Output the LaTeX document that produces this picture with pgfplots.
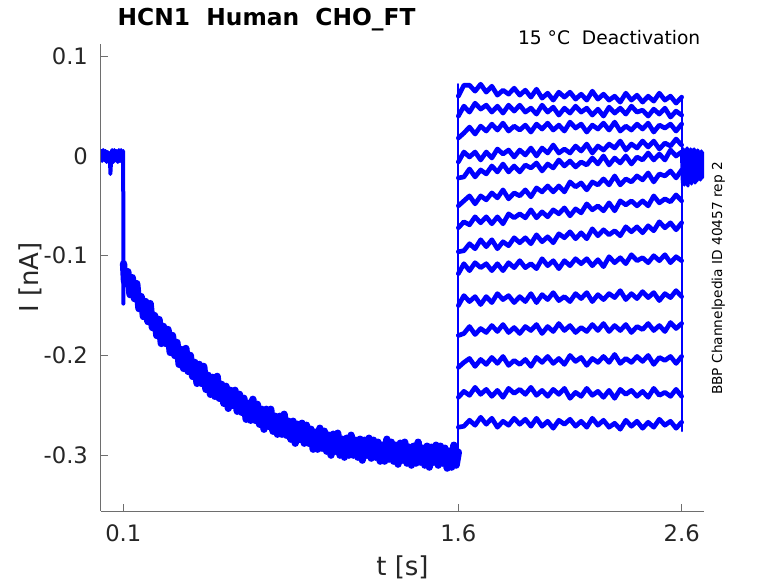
\documentclass[border=0pt]{standalone}
\usepackage{fontspec}
\setmainfont{DejaVu Sans}
\usepackage{pgfplots}
\usepackage{pgfplotstable}
\pgfplotsset{compat=1.18}
\definecolor{axgray}{RGB}{110,110,110}
\definecolor{txt}{RGB}{38,38,38}
\definecolor{tr}{RGB}{0,0,255}

% pre-step holding current and the step at 0.1 s (t [s], I [nA])
\pgfplotstableread{
t i
0.000 0.005
0.005 -0.005
0.010 0.006
0.015 -0.004
0.020 0.005
0.025 -0.006
0.030 0.004
0.035 -0.006
0.040 0.003
0.042 -0.018
0.045 -0.005
0.050 0.006
0.055 -0.006
0.060 0.006
0.065 -0.004
0.070 0.005
0.075 -0.006
0.080 0.006
0.085 -0.005
0.090 0.006
0.095 -0.006
0.0995 0.005
0.1000 -0.148
0.1010 -0.110
}\prestep

% deactivation-prepulse decay (t [s], I [nA])
\pgfplotstableread{
t i
0.1010 -0.108
0.1050 -0.125
0.11 -0.128
0.12 -0.116
0.13 -0.139
0.14 -0.122
0.15 -0.143
0.16 -0.128
0.17 -0.153
0.18 -0.141
0.19 -0.161
0.20 -0.146
0.21 -0.166
0.22 -0.148
0.23 -0.172
0.24 -0.160
0.25 -0.180
0.26 -0.164
0.27 -0.188
0.28 -0.171
0.29 -0.188
0.30 -0.174
0.31 -0.197
0.32 -0.180
0.33 -0.200
0.34 -0.187
0.35 -0.209
0.36 -0.194
0.37 -0.213
0.38 -0.193
0.39 -0.216
0.40 -0.200
0.41 -0.221
0.42 -0.207
0.43 -0.228
0.44 -0.209
0.45 -0.228
0.46 -0.211
0.47 -0.234
0.48 -0.220
0.49 -0.239
0.50 -0.222
0.51 -0.241
0.52 -0.221
0.53 -0.243
0.54 -0.229
0.55 -0.248
0.56 -0.231
0.57 -0.253
0.58 -0.235
0.59 -0.250
0.60 -0.235
0.61 -0.256
0.62 -0.239
0.63 -0.257
0.64 -0.243
0.65 -0.264
0.66 -0.248
0.67 -0.265
0.68 -0.244
0.69 -0.265
0.70 -0.249
0.71 -0.269
0.72 -0.254
0.73 -0.274
0.74 -0.254
0.75 -0.271
0.76 -0.254
0.77 -0.276
0.78 -0.261
0.79 -0.279
0.80 -0.261
0.81 -0.279
0.82 -0.259
0.83 -0.280
0.84 -0.266
0.85 -0.284
0.86 -0.266
0.87 -0.288
0.88 -0.269
0.89 -0.284
0.90 -0.268
0.91 -0.288
0.92 -0.270
0.93 -0.288
0.94 -0.274
0.95 -0.294
0.96 -0.277
0.97 -0.294
0.98 -0.273
0.99 -0.293
1.00 -0.276
1.01 -0.296
1.02 -0.280
1.03 -0.300
1.04 -0.279
1.05 -0.296
1.06 -0.278
1.07 -0.300
1.08 -0.284
1.09 -0.302
1.10 -0.283
1.11 -0.300
1.12 -0.280
1.13 -0.300
1.14 -0.285
1.15 -0.302
1.16 -0.284
1.17 -0.305
1.18 -0.285
1.19 -0.300
1.20 -0.283
1.21 -0.303
1.22 -0.285
1.23 -0.302
1.24 -0.287
1.25 -0.306
1.26 -0.290
1.27 -0.306
1.28 -0.284
1.29 -0.304
1.30 -0.287
1.31 -0.306
1.32 -0.290
1.33 -0.309
1.34 -0.288
1.35 -0.305
1.36 -0.287
1.37 -0.308
1.38 -0.292
1.39 -0.310
1.40 -0.291
1.41 -0.308
1.42 -0.287
1.43 -0.307
1.44 -0.293
1.45 -0.310
1.46 -0.291
1.47 -0.312
1.48 -0.292
1.49 -0.307
1.50 -0.290
1.51 -0.310
1.52 -0.291
1.53 -0.308
1.54 -0.293
1.55 -0.313
1.56 -0.296
1.57 -0.312
1.58 -0.290
1.59 -0.310
1.60 -0.297
}\decay

% 14 test-pulse sweeps, 1.6 s to 2.6 s (I [nA])
\pgfplotstableread{
t s1 s2 s3 s4 s5 s6 s7 s8 s9 s10 s11 s12 s13 s14
1.600 .060 .040 .018 -.006 -.022 -.050 -.072 -.096 -.118 -.150 -.180 -.212 -.242 -.272
1.625 .071 .050 .023 .004 -.021 -.045 -.066 -.095 -.108 -.140 -.178 -.207 -.236 -.271
1.650 .071 .044 .029 -.001 -.013 -.040 -.069 -.088 -.115 -.146 -.171 -.203 -.240 -.265
1.675 .065 .053 .022 .004 -.021 -.048 -.061 -.093 -.107 -.141 -.179 -.211 -.232 -.270
1.700 .072 .047 .030 -.004 -.014 -.040 -.067 -.084 -.112 -.149 -.173 -.204 -.239 -.262
1.725 .064 .051 .025 .004 -.018 -.044 -.061 -.091 -.108 -.141 -.177 -.209 -.234 -.269
1.750 .070 .044 .032 -.002 -.010 -.037 -.068 -.084 -.115 -.147 -.170 -.202 -.241 -.263
1.775 .061 .050 .026 .007 -.016 -.042 -.061 -.093 -.108 -.138 -.176 -.208 -.235 -.272
1.800 .066 .043 .033 .002 -.008 -.034 -.068 -.086 -.115 -.144 -.169 -.201 -.242 -.266
1.825 .062 .051 .025 .006 -.016 -.043 -.058 -.090 -.107 -.140 -.177 -.210 -.233 -.270
1.850 .068 .045 .030 -.001 -.010 -.037 -.062 -.082 -.112 -.147 -.172 -.205 -.238 -.263
1.875 .061 .051 .026 .006 -.016 -.040 -.058 -.087 -.105 -.141 -.178 -.209 -.234 -.269
1.900 .066 .044 .031 .001 -.009 -.034 -.062 -.082 -.112 -.146 -.171 -.204 -.239 -.264
1.925 .059 .048 .024 .008 -.012 -.041 -.054 -.088 -.108 -.138 -.175 -.211 -.232 -.271
1.950 .067 .042 .032 .000 -.007 -.032 -.062 -.079 -.113 -.147 -.169 -.202 -.240 -.263
1.975 .058 .051 .027 .008 -.015 -.036 -.056 -.086 -.103 -.139 -.178 -.207 -.235 -.271
2.000 .063 .044 .033 .003 -.008 -.030 -.061 -.081 -.110 -.144 -.171 -.201 -.241 -.266
2.025 .056 .049 .026 .011 -.012 -.036 -.054 -.087 -.105 -.137 -.176 -.208 -.234 -.273
2.050 .064 .041 .031 .003 -.004 -.030 -.058 -.078 -.113 -.145 -.168 -.203 -.239 -.265
2.075 .059 .048 .025 .007 -.010 -.036 -.052 -.082 -.105 -.141 -.175 -.209 -.233 -.269
2.100 .064 .043 .034 .003 -.005 -.026 -.060 -.076 -.110 -.146 -.170 -.200 -.243 -.264
2.125 .057 .050 .028 .010 -.011 -.031 -.053 -.083 -.103 -.138 -.177 -.206 -.237 -.271
2.150 .062 .044 .032 .005 -.006 -.027 -.057 -.077 -.108 -.143 -.172 -.202 -.241 -.266
2.175 .056 .048 .024 .012 -.009 -.034 -.048 -.083 -.103 -.137 -.176 -.210 -.233 -.272
2.200 .065 .041 .031 .003 -.002 -.026 -.054 -.073 -.110 -.146 -.169 -.203 -.240 -.263
2.225 .057 .047 .027 .010 -.008 -.029 -.050 -.080 -.104 -.139 -.175 -.207 -.236 -.270
2.250 .062 .040 .033 .006 .000 -.023 -.055 -.074 -.111 -.144 -.168 -.201 -.242 -.265
2.275 .056 .049 .026 .012 -.009 -.029 -.047 -.079 -.101 -.138 -.176 -.207 -.235 -.272
2.300 .060 .043 .034 .008 -.002 -.020 -.055 -.075 -.107 -.142 -.170 -.199 -.243 -.268
2.325 .054 .048 .025 .015 -.007 -.029 -.045 -.080 -.102 -.135 -.175 -.208 -.234 -.274
2.350 .063 .042 .030 .006 .000 -.023 -.049 -.071 -.108 -.144 -.169 -.203 -.239 -.265
2.375 .056 .050 .026 .012 -.008 -.026 -.045 -.076 -.099 -.138 -.177 -.207 -.235 -.271
2.400 .061 .044 .032 .008 -.001 -.020 -.050 -.071 -.105 -.143 -.171 -.201 -.241 -.266
2.425 .054 .046 .027 .015 -.004 -.024 -.045 -.077 -.102 -.136 -.174 -.206 -.236 -.273
2.450 .060 .040 .033 .009 .003 -.017 -.050 -.070 -.107 -.142 -.168 -.200 -.242 -.267
2.475 .055 .047 .024 .015 -.004 -.026 -.040 -.075 -.100 -.137 -.175 -.209 -.233 -.272
2.500 .063 .042 .031 .007 .002 -.018 -.047 -.066 -.105 -.145 -.170 -.202 -.240 -.264
2.525 .056 .048 .028 .013 -.004 -.020 -.043 -.072 -.099 -.138 -.176 -.205 -.237 -.270
2.550 .060 .039 .032 .010 .006 -.015 -.046 -.067 -.107 -.142 -.167 -.201 -.241 -.266
2.575 .053 .045 .025 .017 .000 -.022 -.039 -.074 -.101 -.135 -.173 -.208 -.234 -.273
2.600 .059 .041 .032 .011 .004 -.014 -.045 -.067 -.105 -.141 -.168 -.201 -.241 -.267
}\steps

% return to holding potential after 2.6 s (overlapping sweeps)
\pgfplotstableread{
t i
2.600 0.004
2.604 -0.027
2.608 0.007
2.612 -0.029
2.616 0.006
2.620 -0.025
2.624 0.008
2.628 -0.030
2.632 0.005
2.636 -0.026
2.640 0.007
2.644 -0.028
2.648 0.006
2.652 -0.024
2.656 0.007
2.660 -0.027
2.664 0.005
2.668 -0.025
2.672 0.006
2.676 -0.023
2.680 0.004
2.684 -0.024
2.688 0.005
2.692 -0.022
2.696 0.003
2.700 -0.020
}\tailtrace

\begin{document}
\begin{tikzpicture}
\path[use as bounding box] (-75.75pt,-54pt) rectangle (507.75pt,383.25pt);
\begin{axis}[
  at={(0,0)}, anchor=south west,
  scale only axis, width=452.25pt, height=350.25pt,
  xmin=0, xmax=2.7, ymin=-0.356, ymax=0.1123,
  axis x line*=bottom, axis y line*=left,
  x axis line style={-, axgray, line width=0.75pt},
  y axis line style={-, axgray, line width=0.75pt},
  tick align=inside, major tick length=5pt,
  tick style={axgray, line width=0.75pt},
  xtick={0.1,1.6,2.6}, xticklabels={0.1,1.6,2.6},
  ytick={-0.3,-0.2,-0.1,0,0.1}, yticklabels={-0.3,-0.2,-0.1,0,0.1},
  /pgf/number format/assume math mode=true,
  ticklabel style={font=\fontsize{17}{20}\selectfont, text=txt},
  xticklabel style={yshift=-6.4pt},
  yticklabel style={xshift=-6.3pt},
  xlabel={t [s]}, ylabel={I [nA]},
  label style={font=\fontsize{19.5}{23}\selectfont, text=txt},
  xlabel style={at={(axis description cs:0.5,-0.139)}, anchor=base},
  ylabel style={at={(axis description cs:-0.1033,0.5)}, anchor=base, rotate=0},
  clip mode=individual,
  every axis plot/.append style={tr, line join=round, line cap=round},
]
\addplot[line width=3pt] table[x=t, y=i] {\prestep};
\addplot[line width=5.5pt] table[x=t, y=i] {\decay};
\addplot[line width=1.5pt] coordinates {(1.6,-0.310) (1.6,0.072)};
\addplot[line width=3.5pt] table[x=t, y=s1] {\steps};
\addplot[line width=3.5pt] table[x=t, y=s2] {\steps};
\addplot[line width=3.5pt] table[x=t, y=s3] {\steps};
\addplot[line width=3.5pt] table[x=t, y=s4] {\steps};
\addplot[line width=3.5pt] table[x=t, y=s5] {\steps};
\addplot[line width=3.5pt] table[x=t, y=s6] {\steps};
\addplot[line width=3.5pt] table[x=t, y=s7] {\steps};
\addplot[line width=3.5pt] table[x=t, y=s8] {\steps};
\addplot[line width=3.5pt] table[x=t, y=s9] {\steps};
\addplot[line width=3.5pt] table[x=t, y=s10] {\steps};
\addplot[line width=3.5pt] table[x=t, y=s11] {\steps};
\addplot[line width=3.5pt] table[x=t, y=s12] {\steps};
\addplot[line width=3.5pt] table[x=t, y=s13] {\steps};
\addplot[line width=3.5pt] table[x=t, y=s14] {\steps};
\addplot[line width=1.5pt] coordinates {(2.6,0.059) (2.6,-0.276)};
\addplot[line width=2.6pt] table[x=t, y=i] {\tailtrace};
\node[anchor=base west, font=\bfseries\fontsize{17.5}{21}\selectfont, text=black]
  at (axis description cs:0.0199,1.0407) {HCN1~~Human~~CHO\_FT};
\node[anchor=base east, font=\fontsize{14}{17}\selectfont, text=black]
  at (axis description cs:1.0017,0.9979) {15~°C~~Deactivation};
\node[anchor=base, rotate=90, font=\fontsize{10.3}{12}\selectfont, text=black]
  at (axis description cs:1.0299,0.498) {BBP Channelpedia ID 40457 rep 2};
\end{axis}
\end{tikzpicture}
\end{document}
